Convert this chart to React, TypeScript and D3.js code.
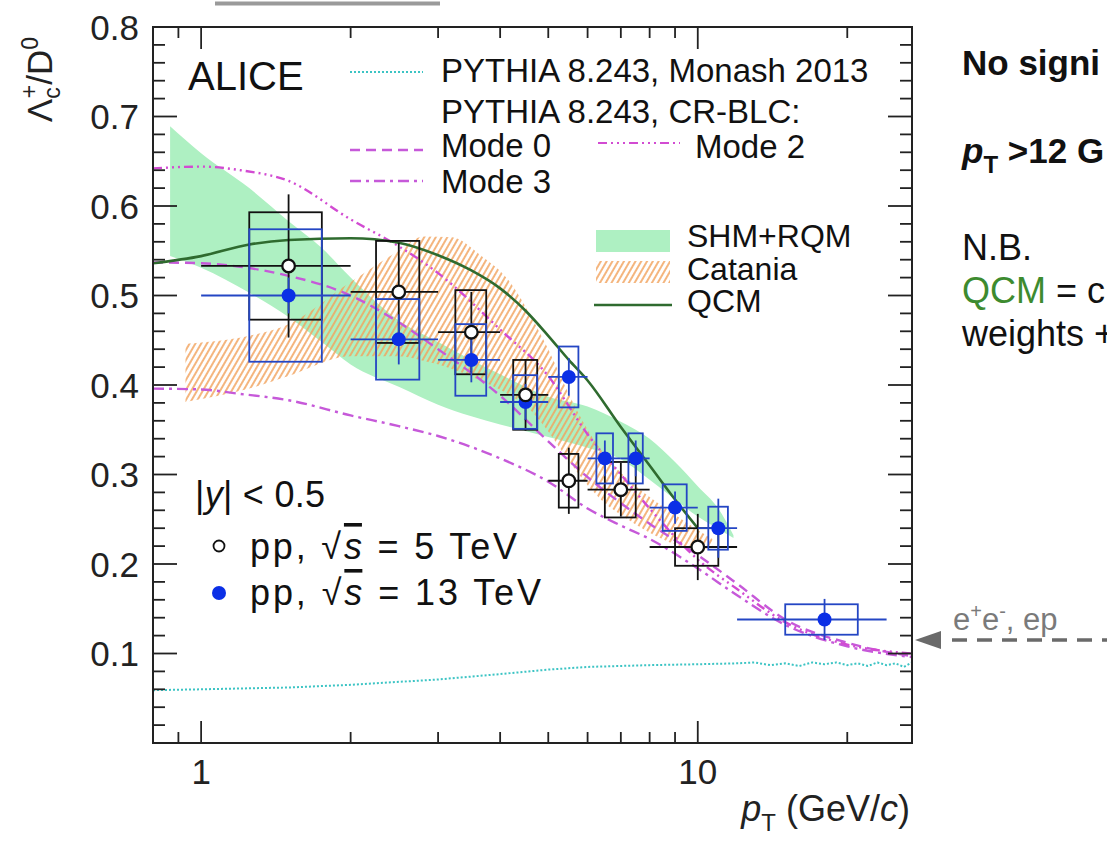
import React from 'react';
import * as d3 from 'd3';

const FONT = '"Liberation Sans", Arial, Helvetica, sans-serif';

// ---------------- data ----------------
// pp, sqrt(s) = 13 TeV
const pp13Pt = [1.5, 2.5, 3.5, 4.5, 5.5, 6.5, 7.5, 9, 11, 18];
const pp13PtLow = [1, 2, 3, 4, 5, 6, 7, 8, 10, 12];
const pp13PtHigh = [2, 3, 4, 5, 6, 7, 8, 10, 12, 24];
const pp13Value = [0.5, 0.451, 0.428, 0.381, 0.409, 0.318, 0.318, 0.263, 0.24, 0.138];
const pp13Stat = [0.02, 0.028, 0.025, 0.02, 0.021, 0.02, 0.02, 0.018, 0.033, 0.023];
const pp13Syst = [0.074, 0.045, 0.04, 0.03, 0.034, 0.028, 0.028, 0.026, 0.024, 0.017];
const pp13BoxHalf = [0.25, 0.25, 0.25, 0.25, 0.25, 0.25, 0.25, 0.5, 0.5, 3];

// pp, sqrt(s) = 5 TeV
const pp5Pt = [1.5, 2.5, 3.5, 4.5, 5.5, 7, 10];
const pp5PtLow = [1, 2, 3, 4, 5, 6, 8];
const pp5PtHigh = [2, 3, 4, 5, 6, 8, 12];
const pp5Value = [0.533, 0.504, 0.459, 0.389, 0.293, 0.283, 0.219];
const pp5Stat = [0.08, 0.055, 0.045, 0.04, 0.037, 0.03, 0.037];
const pp5Syst = [0.06, 0.057, 0.047, 0.039, 0.03, 0.031, 0.021];
const pp5BoxHalf = [0.25, 0.25, 0.25, 0.25, 0.25, 0.5, 1];

// PYTHIA 8.243 Monash 2013
const monashPt = [0.8, 1, 1.5, 2, 3, 4, 5, 6, 8, 10, 12, 13, 14, 15, 16, 17, 18, 19, 20, 21, 22, 23, 24, 25, 26, 27];
const monashVal = [0.059, 0.06, 0.062, 0.065, 0.071, 0.077, 0.082, 0.085, 0.087, 0.088, 0.089, 0.09, 0.087, 0.089, 0.086, 0.09, 0.088, 0.09, 0.087, 0.089, 0.086, 0.09, 0.087, 0.089, 0.085, 0.09];

// PYTHIA 8.243 CR-BLC modes
const modePt = [0.8, 1, 1.2, 1.5, 2, 2.5, 3, 4, 5, 6, 7, 8, 10, 12, 15, 20, 27];
const mode0Val = [0.537, 0.536, 0.532, 0.522, 0.5, 0.47, 0.44, 0.388, 0.337, 0.297, 0.268, 0.245, 0.21, 0.178, 0.138, 0.112, 0.097];
const mode2Val = [0.642, 0.644, 0.64, 0.628, 0.585, 0.555, 0.525, 0.462, 0.41, 0.345, 0.3, 0.262, 0.205, 0.172, 0.135, 0.11, 0.1];
const mode3Val = [0.396, 0.395, 0.39, 0.383, 0.366, 0.354, 0.343, 0.318, 0.292, 0.262, 0.243, 0.228, 0.195, 0.165, 0.132, 0.108, 0.096];

// QCM
const qcmPt = [0.8, 1, 1.25, 1.5, 2, 2.5, 3, 3.5, 4, 4.5, 5, 5.5, 6, 7, 8, 9, 10];
const qcmVal = [0.536, 0.544, 0.557, 0.562, 0.564, 0.559, 0.545, 0.528, 0.508, 0.483, 0.455, 0.428, 0.405, 0.353, 0.31, 0.272, 0.24];

// SHM+RQM band
const shmPt = [0.866, 1, 1.25, 1.5, 1.75, 2, 2.5, 3, 3.5, 4, 5, 6, 7, 8, 9, 10, 11, 11.8];
const shmHigh = [0.689, 0.659, 0.62, 0.583, 0.553, 0.52, 0.472, 0.448, 0.428, 0.412, 0.387, 0.376, 0.359, 0.34, 0.314, 0.287, 0.262, 0.232];
const shmLow = [0.544, 0.531, 0.503, 0.476, 0.448, 0.423, 0.398, 0.378, 0.365, 0.356, 0.342, 0.33, 0.317, 0.294, 0.272, 0.253, 0.239, 0.229];

// Catania band
const catPt = [0.93, 1.25, 1.5, 2, 2.5, 2.8, 3.2, 3.65, 4.2, 4.6, 5, 5.5, 6, 6.5, 7, 8, 9, 10, 10.7];
const catHigh = [0.446, 0.455, 0.468, 0.515, 0.55, 0.566, 0.565, 0.545, 0.514, 0.478, 0.44, 0.39, 0.35, 0.322, 0.302, 0.275, 0.255, 0.238, 0.228];
const catLow = [0.381, 0.396, 0.41, 0.432, 0.432, 0.427, 0.418, 0.405, 0.388, 0.372, 0.348, 0.315, 0.288, 0.268, 0.255, 0.235, 0.222, 0.215, 0.22];

const yTickLabels = [0.1, 0.2, 0.3, 0.4, 0.5, 0.6, 0.7, 0.8];
const xTickLabels = [1, 10];
const xMinorTicks = [0.9, 2, 3, 4, 5, 6, 7, 8, 9, 20];

// ---------------- layout ----------------
const W = 1107;
const H = 841;
const L = 153, R = 912, T = 27, B = 743;

const C_BLUE = '#0b2fe6';
const C_BLUEBOX = '#2446c4';
const C_MAG = '#c659d9';
const C_MAG2 = '#d24bd2';
const C_CYAN = '#3cc4c4';
const C_QCM = '#2f6b2f';
const C_SHM = '#aef0c2';
const C_HATCH = '#f2a35e';

export default function App() {
  const x = d3.scaleLog().domain([0.8, 27]).range([L, R]);
  const y = d3.scaleLinear().domain([0, 0.8]).range([B, T]);

  const line = (pts: number[], vals: number[], curve: any = d3.curveMonotoneX) =>
    d3.line<number>().x((_, i) => x(pts[i])).y((v) => y(v)).curve(curve)(vals) || '';
  const area = (pts: number[], lo: number[], hi: number[]) =>
    d3.area<number>().x((_, i) => x(pts[i])).y0((_, i) => y(lo[i])).y1((v) => y(v)).curve(d3.curveMonotoneX)(hi) || '';

  const yTicks = d3.range(0, 41).map((i) => i * 0.02);

  const drawSeries = (
    pts: number[], lo: number[], hi: number[], val: number[], stat: number[], syst: number[], half: number[], color: string, boxColor: string
  ) => (
    <g>
      {pts.map((p, i) => (
        <g key={i}>
          <rect x={x(p - half[i])} y={y(val[i] + syst[i])} width={x(p + half[i]) - x(p - half[i])}
            height={y(val[i] - syst[i]) - y(val[i] + syst[i])} fill="none" stroke={boxColor} strokeWidth={1.8} />
          <line x1={x(lo[i])} x2={x(hi[i])} y1={y(val[i])} y2={y(val[i])} stroke={color} strokeWidth={1.8} />
          <line x1={x(p)} x2={x(p)} y1={y(val[i] + stat[i])} y2={y(val[i] - stat[i])} stroke={color} strokeWidth={1.8} />
        </g>
      ))}
    </g>
  );

  return (
    <svg width={W} height={H} viewBox={`0 0 ${W} ${H}`} style={{ position: 'absolute', left: 0, top: 0, background: '#fff' }} fontFamily={FONT}>
      <defs>
        <pattern id="hatch" patternUnits="userSpaceOnUse" width="5" height="5" patternTransform="rotate(30)">
          <line x1="1" y1="0" x2="1" y2="5" stroke={C_HATCH} strokeWidth="1.6" />
        </pattern>
        <clipPath id="plotClip">
          <rect x={L} y={T} width={R - L} height={B - T} />
        </clipPath>
      </defs>

      {/* slide decoration */}
      <line x1={215} x2={440} y1={3.5} y2={3.5} stroke="#9a9a9a" strokeWidth={4} />

      <g clipPath="url(#plotClip)">
        <path d={area(shmPt, shmLow, shmHigh)} fill={C_SHM} />
        <path d={area(catPt, catLow, catHigh)} fill="url(#hatch)" />
        <path d={line(monashPt, monashVal, d3.curveLinear)} fill="none" stroke={C_CYAN} strokeWidth={2} strokeDasharray="2,2" />
        <path d={line(modePt, mode3Val)} fill="none" stroke={C_MAG} strokeWidth={2.4} strokeDasharray="11,5,3,5" />
        <path d={line(modePt, mode0Val)} fill="none" stroke={C_MAG} strokeWidth={2.4} strokeDasharray="10,6" />
        <path d={line(modePt, mode2Val)} fill="none" stroke={C_MAG2} strokeWidth={2.4} strokeDasharray="9,4,2,4,2,4,2,4" />
        <path d={line(qcmPt, qcmVal)} fill="none" stroke={C_QCM} strokeWidth={2.6} />

        {drawSeries(pp5Pt, pp5PtLow, pp5PtHigh, pp5Value, pp5Stat, pp5Syst, pp5BoxHalf, '#111', '#111')}
        {drawSeries(pp13Pt, pp13PtLow, pp13PtHigh, pp13Value, pp13Stat, pp13Syst, pp13BoxHalf, C_BLUEBOX, C_BLUEBOX)}
        {pp13Pt.map((p, i) => (
          <circle key={'b' + i} cx={x(p)} cy={y(pp13Value[i])} r={7} fill={C_BLUE} />
        ))}
        {pp5Pt.map((p, i) => (
          <circle key={'k' + i} cx={x(p)} cy={y(pp5Value[i])} r={6.3} fill="#fff" stroke="#111" strokeWidth={2.3} />
        ))}
      </g>

      {/* frame and ticks */}
      <rect x={L} y={T} width={R - L} height={B - T} fill="none" stroke="#222" strokeWidth={2} />
      {yTicks.map((v, i) => {
        const major = i % 5 === 0;
        const len = major ? 24 : 12;
        return (
          <g key={'yt' + i} stroke="#222" strokeWidth={1.8}>
            <line x1={L} x2={L + len} y1={y(v)} y2={y(v)} />
            <line x1={R} x2={R - len} y1={y(v)} y2={y(v)} />
          </g>
        );
      })}
      {xTickLabels.map((v) => (
        <g key={'xM' + v} stroke="#222" strokeWidth={1.8}>
          <line x1={x(v)} x2={x(v)} y1={B} y2={B - 22} />
          <line x1={x(v)} x2={x(v)} y1={T} y2={T + 22} />
        </g>
      ))}
      {xMinorTicks.map((v) => (
        <g key={'xm' + v} stroke="#222" strokeWidth={1.8}>
          <line x1={x(v)} x2={x(v)} y1={B} y2={B - 11} />
          <line x1={x(v)} x2={x(v)} y1={T} y2={T + 11} />
        </g>
      ))}

      {/* tick labels */}
      {yTickLabels.map((v) => (
        <text key={'yl' + v} x={139} y={y(v) + 12.5} fontSize={35} textAnchor="end" fill="#222">{v.toFixed(1)}</text>
      ))}
      {xTickLabels.map((v) => (
        <text key={'xl' + v} x={x(v)} y={784} fontSize={35} textAnchor="middle" fill="#222">{v}</text>
      ))}

      {/* axis titles */}
      <g transform="translate(52,37) rotate(-90)">
        <text fontSize={35} textAnchor="end" fill="#222">
          Λ<tspan fontSize={23} dy={8}>c</tspan><tspan fontSize={23} dx={-11} dy={-23}>+</tspan>
          <tspan dy={15}>/D</tspan><tspan fontSize={23} dy={-14}>0</tspan>
        </text>
      </g>
      <text x={910} y={821} fontSize={36} textAnchor="end" fill="#222">
        <tspan fontStyle="italic">p</tspan><tspan fontSize={24} dy={10}>T</tspan>
        <tspan dy={-10}> (GeV/</tspan><tspan fontStyle="italic">c</tspan>)
      </text>

      {/* ALICE + legend */}
      <text x={188} y={90} fontSize={40} fill="#111">ALICE</text>

      <line x1={350} x2={423} y1={72} y2={72} stroke={C_CYAN} strokeWidth={2} strokeDasharray="2,2" />
      <text x={441} y={82} fontSize={33} fill="#111">PYTHIA 8.243, Monash 2013</text>
      <text x={441} y={123} fontSize={33} fill="#111">PYTHIA 8.243, CR-BLC:</text>
      <line x1={350} x2={423} y1={150} y2={150} stroke={C_MAG} strokeWidth={2.4} strokeDasharray="10,6" />
      <text x={441} y={157} fontSize={33} fill="#111">Mode 0</text>
      <line x1={598} x2={680} y1={143} y2={143} stroke={C_MAG2} strokeWidth={2.2} strokeDasharray="9,4,2,4,2,4,2,4" />
      <text x={695} y={158} fontSize={33} fill="#111">Mode 2</text>
      <line x1={350} x2={423} y1={181} y2={181} stroke={C_MAG} strokeWidth={2.4} strokeDasharray="11,5,3,5" />
      <text x={441} y={193} fontSize={33} fill="#111">Mode 3</text>

      <rect x={596} y={230} width={74} height={22} fill={C_SHM} />
      <text x={687} y={247} fontSize={32} fill="#111">SHM+RQM</text>
      <rect x={596} y={261} width={74} height={22} fill="url(#hatch)" />
      <text x={687} y={280} fontSize={32} fill="#111">Catania</text>
      <line x1={594} x2={672} y1={305} y2={305} stroke={C_QCM} strokeWidth={2.6} />
      <text x={687} y={312} fontSize={32} fill="#111">QCM</text>

      <text x={195} y={507} fontSize={36} fill="#111" textLength={130} lengthAdjust="spacing">
        |<tspan fontStyle="italic">y</tspan>| &lt; 0.5
      </text>
      <circle cx={219} cy={546} r={5.5} fill="#fff" stroke="#111" strokeWidth={1.8} />
      <text x={250} y={559} fontSize={36} fill="#111" textLength={267} lengthAdjust="spacing">
        pp, √<tspan fontStyle="italic" textDecoration="overline">s</tspan> = 5 TeV
      </text>
      <circle cx={219} cy={593} r={7} fill={C_BLUE} />
      <text x={250} y={605} fontSize={36} fill="#111" textLength={291} lengthAdjust="spacing">
        pp, √<tspan fontStyle="italic" textDecoration="overline">s</tspan> = 13 TeV
      </text>

      {/* e+e-, ep arrow */}
      <polygon points="915,640 941,631 941,649" fill="#6a6a6a" />
      <line x1={952} x2={1107} y1={640} y2={640} stroke="#6a6a6a" strokeWidth={3.5} strokeDasharray="15,10" />
      <text x={953} y={630} fontSize={31} fill="#7a7a7a">
        e<tspan fontSize={20} dy={-12}>+</tspan><tspan dy={12}>e</tspan><tspan fontSize={20} dy={-12}>-</tspan><tspan dy={12}>, ep</tspan>
      </text>

      {/* side notes */}
      <text x={962} y={75} fontSize={35} fontWeight="bold" fill="#111">No signi</text>
      <text x={962} y={163} fontSize={35} fontWeight="bold" fill="#111">
        <tspan fontStyle="italic">p</tspan><tspan fontSize={24} dy={10}>T</tspan><tspan dy={-10}> &gt;12 G</tspan>
      </text>
      <text x={962} y={260} fontSize={36} fill="#111">N.B.</text>
      <text x={962} y={303} fontSize={36} fill="#111">
        <tspan fill="#3d8b2f">QCM</tspan> = c
      </text>
      <text x={962} y={346} fontSize={36} fill="#111">weights +</text>
    </svg>
  );
}
